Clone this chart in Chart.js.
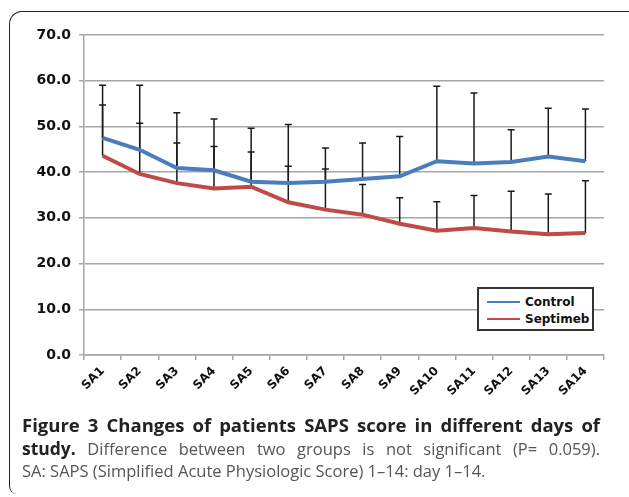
<!DOCTYPE html>
<html>
<head>
<meta charset="utf-8">
<script src="https://cdn.jsdelivr.net/npm/chart.js@4"></script>
<style>
  html, body { margin: 0; padding: 0; background: #fff; }
  body { width: 629px; height: 497px; position: relative; overflow: hidden; }
  #frame {
    position: absolute; left: 9px; top: 11px; width: 640px; height: 482px;
    border-left: 1.5px solid #222; border-top: 1.5px solid #222;
    border-top-left-radius: 13px; border-bottom-left-radius: 8px;
  }
  #chart { position: absolute; left: 0; top: 0; }
  #legend {
    position: absolute; left: 477px; top: 287px; width: 113px; height: 40px;
    border: 2px solid #333; background: #fff;
    font: bold 12px "DejaVu Sans", sans-serif; color: #111;
  }
  .item { position: absolute; left: 8px; height: 18px; }
  .item i { position: absolute; left: 0; top: 8px; width: 33px; height: 1.5px; }
  .item span { position: absolute; left: 38px; top: 0; line-height: 18px; white-space: nowrap; }
  .caption {
    position: absolute; left: 22px; width: 578px; white-space: nowrap;
    font-family: "Open Sans", sans-serif; font-size: 16.5px; line-height: 22px; color: #555;
  }
  .caption b { color: #222; font-weight: 700; }
  .just { text-align: justify; text-align-last: justify; white-space: normal; }
</style>
</head>
<body>
<div id="frame"></div>
<canvas id="chart" width="629" height="420"></canvas>
<div id="legend">
  <div class="item" style="top:4px"><i style="background:#4a7ebb"></i><span>Control</span></div>
  <div class="item" style="top:21px"><i style="background:#be4b48"></i><span>Septimeb</span></div>
</div>
<div class="caption just" style="top:414px; font-size:18.5px;"><b>Figure 3 Changes of patients SAPS score in different days of</b></div>
<div class="caption just" style="top:437px;"><b style="font-size:17.5px">study.</b> Difference between two groups is not significant (P= 0.059).</div>
<div class="caption" style="top:460px;">SA: SAPS (Simplified Acute Physiologic Score) 1–14: day 1–14.</div>
<script>
// valores
const days = ['SA1','SA2','SA3','SA4','SA5','SA6','SA7','SA8','SA9','SA10','SA11','SA12','SA13','SA14'];
const controlMean = [47.5, 44.9, 40.9, 40.4, 37.9, 37.6, 37.9, 38.5, 39.1, 42.4, 41.9, 42.2, 43.4, 42.4];
const controlSD   = [11.5, 14.1, 12.1, 11.2, 11.7, 12.8, 7.4, 7.9, 8.7, 16.4, 15.4, 7.1, 10.6, 11.4];
const septimebMean = [43.6, 39.6, 37.6, 36.4, 36.8, 33.4, 31.8, 30.7, 28.7, 27.2, 27.8, 27.0, 26.4, 26.7];
const septimebSD   = [11.1, 11.1, 8.8, 9.2, 7.6, 7.9, 8.9, 6.6, 5.7, 6.3, 7.1, 8.8, 8.8, 11.4];
const yTicks = [0, 10, 20, 30, 40, 50, 60, 70];

// barras de error solo hacia arriba (media + DE)
const errorBars = {
  id: 'errorBars',
  beforeDatasetsDraw(chart) {
    const { ctx, scales: { x, y } } = chart;
    ctx.save();
    ctx.strokeStyle = '#1a1a1a';
    ctx.lineWidth = 1.5;
    chart.data.datasets.forEach(ds => {
      ds.data.forEach((v, i) => {
        const px = x.getPixelForValue(i);
        const y0 = y.getPixelForValue(v);
        const y1 = y.getPixelForValue(v + ds.sd[i]);
        ctx.beginPath();
        ctx.moveTo(px, y0); ctx.lineTo(px, y1);
        ctx.moveTo(px - 3.5, y1); ctx.lineTo(px + 3.5, y1);
        ctx.stroke();
      });
    });
    ctx.restore();
  }
};

new Chart(document.getElementById('chart').getContext('2d'), {
  type: 'line',
  data: {
    labels: days,
    datasets: [
      { label: 'Control', data: controlMean, sd: controlSD, borderColor: '#4a7ebb', borderWidth: 4, pointRadius: 0, tension: 0, fill: false },
      { label: 'Septimeb', data: septimebMean, sd: septimebSD, borderColor: '#be4b48', borderWidth: 4, pointRadius: 0, tension: 0, fill: false }
    ]
  },
  options: {
    responsive: false,
    animation: false,
    layout: { padding: { top: 35, right: 25, left: 0, bottom: 0 } },
    plugins: { legend: { display: false }, tooltip: { enabled: false } },
    scales: {
      x: {
        offset: true,
        afterFit: s => { s.height = 65; },
        grid: { offset: true, drawOnChartArea: false, drawTicks: true, tickLength: 5, color: '#a6a6a6', lineWidth: 1.5 },
        border: { color: '#a6a6a6', width: 1.5 },
        ticks: { minRotation: 45, maxRotation: 45, autoSkip: false, padding: 4, color: '#111', font: { family: 'DejaVu Sans', weight: 'bold', size: 12 } }
      },
      y: {
        min: 0, max: 70,
        afterFit: s => { s.width = 84; },
        afterBuildTicks: s => { s.ticks = yTicks.map(v => ({ value: v })); },
        grid: { color: '#a6a6a6', lineWidth: 1.5, tickLength: 5 },
        border: { color: '#a6a6a6', width: 1.5 },
        ticks: { padding: 8, color: '#111', font: { family: 'DejaVu Sans', weight: 'bold', size: 14 }, callback: v => v.toFixed(1) }
      }
    }
  },
  plugins: [errorBars]
});
</script>
</body>
</html>
